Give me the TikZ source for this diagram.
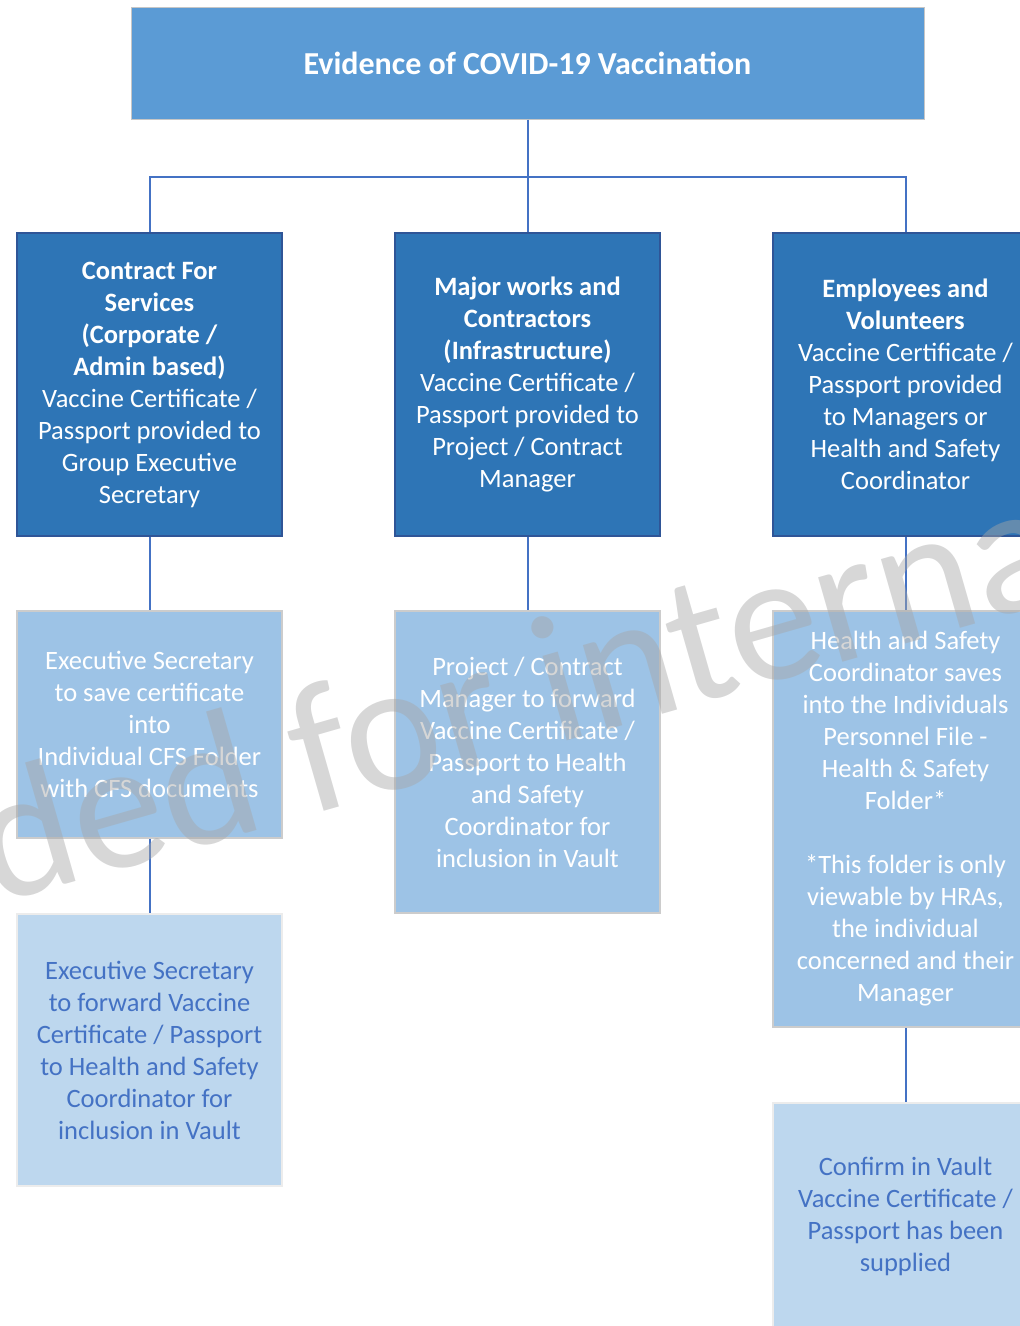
\documentclass[tikz,border=0pt]{standalone}
\usepackage{fontspec}
\setmainfont{Carlito}
\definecolor{topfill}{HTML}{5B9BD5}
\definecolor{lvtwo}{HTML}{2E75B6}
\definecolor{lvtwoborder}{HTML}{2F5597}
\definecolor{lvthree}{HTML}{9DC3E6}
\definecolor{lvfour}{HTML}{BDD7EE}
\definecolor{linkblue}{HTML}{4472C4}
\definecolor{wmgray}{HTML}{A6A6A6}
\begin{document}
\begin{tikzpicture}[x=1pt,y=-1pt,
  base/.style={rectangle, inner sep=0pt, align=center, minimum width=265pt,
    font=\fontsize{26.5}{32}\selectfont},
  topbox/.style={rectangle, inner sep=0pt, align=center, fill=topfill, draw=gray!45, line width=1pt,
    minimum width=793pt, minimum height=112pt, text=white, font=\fontsize{32}{38}\selectfont\bfseries},
  lvtwobox/.style={base, fill=lvtwo, draw=lvtwoborder, line width=2pt, text=white, minimum height=303pt},
  lvthreebox/.style={base, fill=lvthree, draw=gray!40, line width=1.5pt, text=white},
  lvfourbox/.style={base, fill=lvfour, draw=gray!15, line width=1.5pt, text=linkblue},
  conn/.style={draw=linkblue, line width=2pt},
  watermark/.style={text=wmgray, opacity=0.45, font=\fontsize{184}{184}\selectfont, rotate=16, inner sep=0pt}
]
\useasboundingbox (0,0) rectangle (1020,1326);
\clip (0,0) rectangle (1020,1326);

\node[topbox] (top) at (527.5,63) {Evidence of COVID-19 Vaccination};

\node[lvtwobox] (cfs) at (149.5,384.5) {\textbf{Contract For}\\\textbf{Services}\\\textbf{(Corporate /}\\\textbf{Admin based)}\\Vaccine Certificate /\\Passport provided to\\Group Executive\\Secretary};
\node[lvtwobox] (major) at (527.5,384.5) {\textbf{Major works and}\\\textbf{Contractors}\\\textbf{(Infrastructure)}\\Vaccine Certificate /\\Passport provided to\\Project / Contract\\Manager};
\node[lvtwobox] (emp) at (905.5,384.5) {\textbf{Employees and}\\\textbf{Volunteers}\\Vaccine Certificate /\\Passport provided\\to Managers or\\Health and Safety\\Coordinator};

\node[lvthreebox, minimum height=227pt] (cfssave) at (149.5,724.5) {Executive Secretary\\to save certificate\\into\\Individual CFS Folder\\with CFS documents};
\node[lvfourbox, minimum height=272pt] (cfsfwd) at (149.5,1050) {Executive Secretary\\to forward Vaccine\\Certificate / Passport\\to Health and Safety\\Coordinator for\\inclusion in Vault};

\node[lvthreebox, minimum height=302pt] (majfwd) at (527.5,762) {Project / Contract\\Manager to forward\\Vaccine Certificate /\\Passport to Health\\and Safety\\Coordinator for\\inclusion in Vault};

\node[lvthreebox, minimum height=416pt] (empsave) at (905.5,819) {Health and Safety\\Coordinator saves\\into the Individuals\\Personnel File -\\Health \& Safety\\Folder*\\ \mbox{}\\{*}This folder is only\\viewable by HRAs,\\the individual\\concerned and their\\Manager};
\node[lvfourbox, minimum height=226pt] (empconf) at (905.5,1216) {Confirm in Vault\\Vaccine Certificate /\\Passport has been\\supplied};

\coordinate (bus) at (527.5,177);
\draw[conn] (top.south) -- (major.north);
\draw[conn] (cfs.north) |- (bus) -| (emp.north);
\draw[conn] (cfs.south) -- (cfssave.north);
\draw[conn] (cfssave.south) -- (cfsfwd.north);
\draw[conn] (major.south) -- (majfwd.north);
\draw[conn] (emp.south) -- (empsave.north);
\draw[conn] (empsave.south) -- (empconf.north);

\node[watermark] (wm) at (516,690) {ded for interna};
\end{tikzpicture}
\end{document}
